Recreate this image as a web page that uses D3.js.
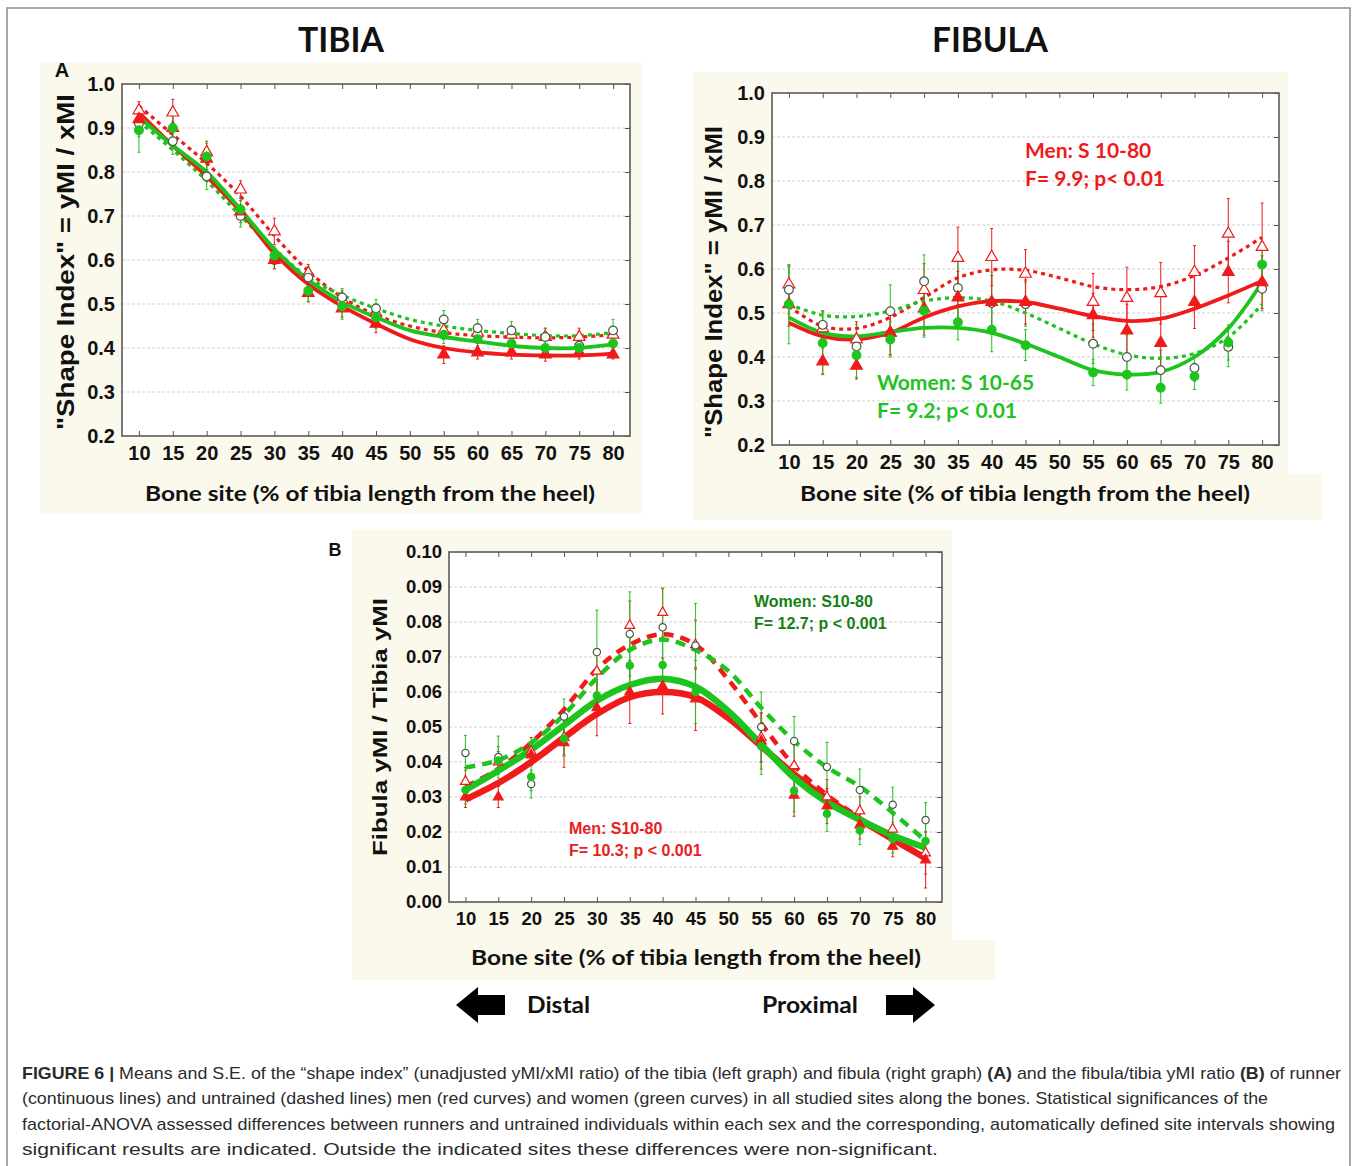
<!DOCTYPE html>
<html><head><meta charset="utf-8">
<script src="https://cdn.jsdelivr.net/npm/d3@7"></script>
<style>body{margin:0;background:#fff}svg{display:block}</style>
</head><body>
<svg id="c" width="1358" height="1166"></svg>
<script>
// ---------------- DATA ----------------
const sites = [10,15,20,25,30,35,40,45,55,60,65,70,75,80];
const fitSites = [10,15,20,25,30,35,40,45,50,55,60,65,70,75,80];
const xTickLabels = [10,15,20,25,30,35,40,45,50,55,60,65,70,75,80];
const yTicksA = [0.2,0.3,0.4,0.5,0.6,0.7,0.8,0.9,1.0];
const yTicksB = [0.00,0.01,0.02,0.03,0.04,0.05,0.06,0.07,0.08,0.09,0.10];

// TIBIA (shape index)
const tibiaMenRun    = [0.92,0.90,0.83,0.71,0.60,0.525,0.49,0.455,0.385,0.39,0.39,0.385,0.39,0.385];
const tibiaMenRunSE  = [0.03,0.03,0.025,0.025,0.02,0.02,0.02,0.02,0.02,0.015,0.015,0.015,0.015,0.01];
const tibiaMenUnt    = [0.94,0.935,0.845,0.76,0.665,0.57,0.51,0.48,0.44,0.435,0.43,0.425,0.425,0.43];
const tibiaMenUntSE  = [0.02,0.03,0.025,0.02,0.03,0.02,0.02,0.02,0.02,0.02,0.02,0.02,0.02,0.015];
const tibiaWomRun    = [0.895,0.90,0.835,0.715,0.61,0.53,0.495,0.47,0.43,0.42,0.41,0.40,0.40,0.41];
const tibiaWomRunSE  = [0.05,0.03,0.03,0.03,0.02,0.025,0.03,0.025,0.02,0.02,0.02,0.02,0.02,0.02];
const tibiaWomUnt    = [0.91,0.87,0.79,0.70,0.60,0.56,0.515,0.49,0.465,0.445,0.44,0.425,0.405,0.44];
const tibiaWomUntSE  = [0.03,0.03,0.03,0.025,0.02,0.025,0.02,0.02,0.02,0.02,0.02,0.02,0.02,0.025];
const tibiaFitMenRun = [0.935,0.86,0.79,0.71,0.615,0.545,0.495,0.455,0.42,0.40,0.39,0.385,0.383,0.383,0.387];
const tibiaFitMenUnt = [0.95,0.885,0.82,0.745,0.655,0.575,0.515,0.475,0.45,0.435,0.428,0.425,0.423,0.425,0.43];
const tibiaFitWomRun = [0.925,0.86,0.80,0.715,0.625,0.555,0.505,0.47,0.44,0.425,0.415,0.405,0.40,0.40,0.408];
const tibiaFitWomUnt = [0.915,0.85,0.78,0.70,0.625,0.56,0.52,0.49,0.465,0.45,0.44,0.433,0.428,0.428,0.435];

// FIBULA (shape index)
const fibMenRun    = [0.52,0.39,0.38,0.455,0.51,0.535,0.525,0.525,0.495,0.46,0.432,0.525,0.593,0.57];
const fibMenRunSE  = [0.05,0.03,0.03,0.05,0.06,0.06,0.06,0.05,0.05,0.06,0.055,0.06,0.07,0.06];
const fibMenUnt    = [0.565,0.465,0.44,0.455,0.552,0.625,0.627,0.589,0.525,0.534,0.545,0.593,0.68,0.65];
const fibMenUntSE  = [0.04,0.04,0.04,0.05,0.06,0.07,0.065,0.055,0.065,0.07,0.07,0.06,0.08,0.1];
const fibWomRun    = [0.52,0.432,0.404,0.44,0.505,0.479,0.462,0.427,0.365,0.36,0.33,0.356,0.433,0.61];
const fibWomRunSE  = [0.09,0.07,0.05,0.04,0.06,0.04,0.05,0.035,0.03,0.035,0.035,0.03,0.04,0.05];
const fibWomUnt    = [0.553,0.473,0.424,0.504,0.572,0.557,0.523,0.52,0.43,0.40,0.37,0.375,0.423,0.555];
const fibWomUntSE  = [0.055,0.03,0.05,0.06,0.06,0.075,0.07,0.05,0.045,0.05,0.045,0.03,0.045,0.05];
const fibFitMenRun = [0.478,0.447,0.44,0.455,0.49,0.515,0.527,0.525,0.51,0.493,0.482,0.487,0.51,0.54,0.573];
const fibFitMenUnt = [0.515,0.47,0.465,0.49,0.535,0.58,0.598,0.597,0.58,0.56,0.553,0.56,0.585,0.625,0.672];
const fibFitWomRun = [0.49,0.455,0.447,0.457,0.466,0.466,0.455,0.43,0.40,0.37,0.36,0.366,0.40,0.465,0.57];
const fibFitWomUnt = [0.52,0.495,0.492,0.505,0.527,0.535,0.527,0.50,0.465,0.43,0.405,0.397,0.408,0.445,0.52];

// B: fibula yMI / tibia yMI
const ratMenRun    = [0.030,0.030,0.042,0.0455,0.0555,0.060,0.0617,0.058,0.046,0.0305,0.0274,0.022,0.0159,0.012];
const ratMenRunSE  = [0.003,0.003,0.003,0.007,0.008,0.009,0.008,0.009,0.008,0.006,0.005,0.004,0.003,0.008];
const ratMenUnt    = [0.0344,0.040,0.043,0.047,0.0659,0.079,0.0827,0.0735,0.047,0.0389,0.030,0.026,0.0208,0.014];
const ratMenUntSE  = [0.004,0.003,0.004,0.005,0.006,0.007,0.007,0.007,0.007,0.006,0.005,0.004,0.005,0.006];
const ratWomRun    = [0.032,0.0404,0.0358,0.0467,0.059,0.0676,0.0677,0.060,0.0445,0.0318,0.0252,0.0204,0.018,0.0174];
const ratWomRunSE  = [0.004,0.004,0.004,0.005,0.006,0.008,0.008,0.009,0.008,0.006,0.005,0.004,0.004,0.005];
const ratWomUnt    = [0.0426,0.0414,0.0337,0.053,0.0714,0.0766,0.0785,0.0733,0.050,0.046,0.0386,0.032,0.0278,0.0234];
const ratWomUntSE  = [0.005,0.006,0.004,0.005,0.012,0.012,0.011,0.012,0.01,0.007,0.007,0.006,0.005,0.005];
const ratFitMenRun = [0.0293,0.034,0.040,0.047,0.0537,0.0585,0.060,0.0585,0.0525,0.0445,0.0365,0.0295,0.0235,0.018,0.0125];
const ratFitMenUnt = [0.033,0.038,0.0455,0.055,0.0665,0.0735,0.0765,0.0735,0.0635,0.051,0.039,0.0306,0.024,0.0177,0.0126];
const ratFitWomRun = [0.032,0.0375,0.0435,0.0505,0.0575,0.062,0.0638,0.0615,0.0545,0.045,0.0355,0.0285,0.0235,0.019,0.0155];
const ratFitWomUnt = [0.0385,0.0405,0.0455,0.0535,0.064,0.072,0.075,0.072,0.066,0.0555,0.046,0.0385,0.033,0.0255,0.0175];

// ---------------- DRAWING ----------------
const RED = "#f01a1a", GREEN = "#1ec41e", OPEN_C = "#4a5a4a";
const svg = d3.select("#c");

svg.append("rect").attr("x",7).attr("y",8).attr("width",1343).attr("height",1170)
  .attr("fill","none").attr("stroke","#8a8a8a").attr("stroke-width",1.5);

const BEIGE = "#fbf8ec";
function bg(x,y,w,h){ svg.append("rect").attr("x",x).attr("y",y).attr("width",w).attr("height",h).attr("fill",BEIGE); }
bg(40,62,602,452);
bg(693,72,595,448); bg(1288,474,34,46);
bg(352,530,600,450); bg(952,940,43,40);

function drawPanel(o){
  const g = svg.append("g");
  const x = d3.scaleLinear().domain([7.5,82.5]).range([o.left,o.right]);
  const y = d3.scaleLinear().domain(o.yDomain).range([o.bottom,o.top]);
  g.append("rect").attr("x",o.left).attr("y",o.top).attr("width",o.right-o.left).attr("height",o.bottom-o.top).attr("fill","#fff");
  g.selectAll(".gr").data(o.yTicks.slice(1,-1)).enter().append("line")
    .attr("x1",o.left).attr("x2",o.right).attr("y1",d=>y(d)).attr("y2",d=>y(d))
    .attr("stroke","#cfcfcf").attr("stroke-width",1).attr("stroke-dasharray","3,2");
  const fmt = d3.format(o.yFmt);
  const ax = g.append("g").attr("transform",`translate(0,${o.bottom})`)
    .call(d3.axisBottom(x).tickValues(xTickLabels).tickSize(-5).tickPadding(o.xPad));
  ax.select(".domain").remove();
  ax.selectAll("text").attr("font-family","Liberation Sans, Arial, sans-serif").attr("font-weight","bold")
    .attr("font-size",o.tickFs).attr("fill","#111");
  ax.selectAll("line").attr("stroke","#555");
  const axT = g.append("g").attr("transform",`translate(0,${o.top})`)
    .call(d3.axisTop(x).tickValues(xTickLabels).tickSize(-5).tickFormat(""));
  axT.select(".domain").remove(); axT.selectAll("line").attr("stroke","#555");
  const ay = g.append("g").attr("transform",`translate(${o.left},0)`)
    .call(d3.axisLeft(y).tickValues(o.yTicks).tickSize(0).tickPadding(o.yPad).tickFormat(fmt));
  ay.select(".domain").remove();
  ay.selectAll("text").attr("font-family","Liberation Sans, Arial, sans-serif").attr("font-weight","bold")
    .attr("font-size",o.tickFs).attr("fill","#111");
  const ayR = g.append("g").attr("transform",`translate(${o.right},0)`)
    .call(d3.axisRight(y).tickValues(o.yTicks).tickSize(-5).tickFormat(""));
  ayR.select(".domain").remove(); ayR.selectAll("line").attr("stroke","#555");
  g.append("rect").attr("x",o.left).attr("y",o.top).attr("width",o.right-o.left).attr("height",o.bottom-o.top)
    .attr("fill","none").attr("stroke","#5a5a5a").attr("stroke-width",1.6);

  const line = d3.line().x((d,i)=>x(fitSites[i])).y(d=>y(d)).curve(d3.curveCatmullRom.alpha(0.5));
  o.series.forEach(s=>{
    const eb = g.append("g");
    s.vals.forEach((v,i)=>{
      const cx = x(sites[i]);
      eb.append("line").attr("x1",cx).attr("x2",cx).attr("y1",y(v-s.se[i])).attr("y2",y(v+s.se[i]))
        .attr("stroke",s.color).attr("stroke-width",1.1).attr("opacity",0.9);
      [v-s.se[i],v+s.se[i]].forEach(e=>eb.append("line").attr("x1",cx-1.5).attr("x2",cx+1.5)
        .attr("y1",y(e)).attr("y2",y(e)).attr("stroke",s.color).attr("stroke-width",1));
    });
  });
  o.series.forEach(s=>{
    g.append("path").attr("d",line(s.fit)).attr("fill","none").attr("stroke",s.color)
      .attr("stroke-width",s.dashed?o.dashW:o.solidW).attr("stroke-dasharray",s.dashed?o.dash:null)
      .attr("stroke-linecap","butt");
  });
  o.series.forEach(s=>{
    const sym = d3.symbol().type(s.marker==="tri"?d3.symbolTriangle:d3.symbolCircle).size(o.mSize);
    g.selectAll(null).data(s.vals).enter().append("path")
      .attr("d",sym).attr("transform",(d,i)=>`translate(${x(sites[i])},${y(d)})`)
      .attr("fill",s.filled?s.color:"#fff")
      .attr("stroke",s.filled?s.color:(s.marker==="tri"?s.color:OPEN_C)).attr("stroke-width",1.2);
  });
  return g;
}

const tibiaSeries = [
  {vals:tibiaMenUnt, se:tibiaMenUntSE, fit:tibiaFitMenUnt, color:RED, dashed:true, marker:"tri", filled:false},
  {vals:tibiaWomUnt, se:tibiaWomUntSE, fit:tibiaFitWomUnt, color:GREEN, dashed:true, marker:"circ", filled:false},
  {vals:tibiaMenRun, se:tibiaMenRunSE, fit:tibiaFitMenRun, color:RED, dashed:false, marker:"tri", filled:true},
  {vals:tibiaWomRun, se:tibiaWomRunSE, fit:tibiaFitWomRun, color:GREEN, dashed:false, marker:"circ", filled:true}
];
const fibSeries = [
  {vals:fibMenUnt, se:fibMenUntSE, fit:fibFitMenUnt, color:RED, dashed:true, marker:"tri", filled:false},
  {vals:fibWomUnt, se:fibWomUntSE, fit:fibFitWomUnt, color:GREEN, dashed:true, marker:"circ", filled:false},
  {vals:fibMenRun, se:fibMenRunSE, fit:fibFitMenRun, color:RED, dashed:false, marker:"tri", filled:true},
  {vals:fibWomRun, se:fibWomRunSE, fit:fibFitWomRun, color:GREEN, dashed:false, marker:"circ", filled:true}
];
const ratSeries = [
  {vals:ratMenUnt, se:ratMenUntSE, fit:ratFitMenUnt, color:RED, dashed:true, marker:"tri", filled:false},
  {vals:ratWomUnt, se:ratWomUntSE, fit:ratFitWomUnt, color:GREEN, dashed:true, marker:"circ", filled:false},
  {vals:ratMenRun, se:ratMenRunSE, fit:ratFitMenRun, color:RED, dashed:false, marker:"tri", filled:true},
  {vals:ratWomRun, se:ratWomRunSE, fit:ratFitWomRun, color:GREEN, dashed:false, marker:"circ", filled:true}
];

drawPanel({left:122,right:630,top:84,bottom:436,yDomain:[0.2,1.0],yTicks:yTicksA,yFmt:".1f",
  tickFs:20,xPad:10,yPad:7,solidW:3.8,dashW:3.2,dash:"4,4",mSize:60,series:tibiaSeries});
drawPanel({left:772,right:1279,top:93,bottom:445,yDomain:[0.2,1.0],yTicks:yTicksA,yFmt:".1f",
  tickFs:20,xPad:10,yPad:7,solidW:3.8,dashW:3.2,dash:"4,4",mSize:60,series:fibSeries});
drawPanel({left:449,right:942,top:552,bottom:902,yDomain:[0,0.10],yTicks:yTicksB,yFmt:".2f",
  tickFs:18.5,xPad:10,yPad:7,solidW:6.5,dashW:4.5,dash:"10,7",mSize:42,series:ratSeries});

// ---------------- TEXT ----------------
const CAL = "Lato, 'Open Sans', sans-serif";
const ARI = "'Liberation Sans', Arial, sans-serif";
function txt(t,x,y,opt){
  const e = svg.append("text").attr("x",x).attr("y",y).text(t)
    .attr("font-family",opt.ff||CAL).attr("font-weight",opt.fw||"bold").attr("font-size",opt.fs)
    .attr("fill",opt.fill||"#111").attr("text-anchor",opt.anchor||"start");
  if(opt.len) e.attr("textLength",opt.len).attr("lengthAdjust","spacingAndGlyphs");
  if(opt.rot) e.attr("transform",`rotate(-90,${x},${y})`);
  return e;
}
txt("TIBIA",341,52,{fs:34,anchor:"middle",len:86});
txt("FIBULA",990,52,{fs:34,anchor:"middle",len:116});
txt("A",62,77,{fs:20,ff:ARI,anchor:"middle"});
txt("B",335,556,{fs:18,ff:ARI,anchor:"middle"});

txt("Bone site (% of tibia length from the heel)",370,501,{fs:21,anchor:"middle",len:450});
txt("Bone site (% of tibia length from the heel)",1025,501,{fs:21,anchor:"middle",len:450});
txt("Bone site (% of tibia length from the heel)",696,965,{fs:21,anchor:"middle",len:450});

txt('"Shape Index" = yMI / xMI',74,262,{fs:23,ff:ARI,anchor:"middle",rot:true,len:336});
txt('"Shape Index" = yMI / xMI',722,282,{fs:23,ff:ARI,anchor:"middle",rot:true,len:312});
txt("Fibula yMI / Tibia yMI",387,727,{fs:20,ff:ARI,anchor:"middle",rot:true,len:258});

txt("Men: S 10-80",1025,158,{fs:21,fill:"#f01a1a"});
txt("F= 9.9; p< 0.01",1025,186,{fs:21,fill:"#f01a1a"});
txt("Women: S 10-65",877,390,{fs:21,fill:"#22c222"});
txt("F= 9.2; p< 0.01",877,418,{fs:21,fill:"#22c222"});
txt("Women: S10-80",754,607,{fs:16,ff:ARI,fill:"#158015"});
txt("F= 12.7; p < 0.001",754,629,{fs:16,ff:ARI,fill:"#158015"});
txt("Men: S10-80",569,834,{fs:16,ff:ARI,fill:"#e82020"});
txt("F= 10.3; p < 0.001",569,856,{fs:16,ff:ARI,fill:"#e82020"});

svg.append("path").attr("d","M456,1005 L478,987 L478,995 L505,995 L505,1015 L478,1015 L478,1023 Z").attr("fill","#000");
svg.append("path").attr("d","M935,1005 L913,987 L913,995 L886,995 L886,1015 L913,1015 L913,1023 Z").attr("fill","#000");
txt("Distal",527,1013,{fs:22,len:63});
txt("Proximal",762,1013,{fs:22,len:96});

const capFont = "'Liberation Sans Narrow', 'Liberation Sans', Arial, sans-serif";
const capLines = [
  [["FIGURE 6 | ",true],["Means and S.E. of the \u201cshape index\u201d (unadjusted yMI/xMI ratio) of the tibia (left graph) and fibula (right graph) ",false],["(A)",true],[" and the fibula/tibia yMI ratio ",false],["(B)",true],[" of runner",false]],
  [["(continuous lines) and untrained (dashed lines) men (red curves) and women (green curves) in all studied sites along the bones. Statistical significances of the",false]],
  [["factorial-ANOVA assessed differences between runners and untrained individuals within each sex and the corresponding, automatically defined site intervals showing",false]],
  [["significant results are indicated. Outside the indicated sites these differences were non-significant.",false]]
];
const capLens = [1319,1246,1313,916];
capLines.forEach((ln,i)=>{
  const t = svg.append("text").attr("x",22).attr("y",1079+i*25.3).attr("font-family",capFont)
    .attr("font-size",17).attr("fill","#2b2b2b")
    .attr("textLength",capLens[i]).attr("lengthAdjust","spacingAndGlyphs");
  ln.forEach(([s,b])=>t.append("tspan").text(s).attr("font-weight",b?"bold":"normal"));
});
</script>
</body></html>
